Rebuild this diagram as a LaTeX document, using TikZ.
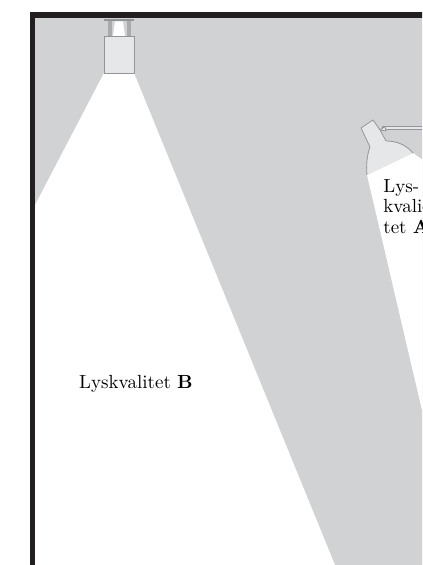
\documentclass[tikz,border=0pt]{standalone}
\begin{document}
\begin{tikzpicture}[x=0.5pt,y=-0.5pt,
  lbl/.style={inner sep=0pt,font=\fontsize{9.5}{10.3}\selectfont},
  fixture/.style={draw=lampline,line width=0.4pt,fill=lampfill}]
\definecolor{wallc}{HTML}{231F20}
\definecolor{roomc}{HTML}{D1D2D4}
\definecolor{lampfill}{HTML}{E6E7E8}
\definecolor{lampline}{HTML}{939598}
\useasboundingbox (0,0) rectangle (422,565);
\begin{scope}
\clip (0,0) rectangle (422,565);
% room interior
\fill[roomc] (35,18) rectangle (430,570);
% light cone of the ceiling lamp
\fill[white] (104,73) -- (134,73) -- (337,570) -- (35,570) -- (35,205) -- cycle;
% light cone of the wall spot
\fill[white] (367,175) -- (413,153) -- (620,300) -- (478,650) -- cycle;
% walls
\fill[wallc] (30,12) rectangle (430,18);
\fill[wallc] (30,12) rectangle (35,570);
% ceiling lamp: bracket, posts and housing
\fill[lampline] (104,19) rectangle (134,21.5);
\fill[lampline!80] (108,21.5) rectangle (112,36);
\fill[lampline!80] (127,21.5) rectangle (131,36);
\fill[white] (115,21.5) -- (123,21.5) -- (125,36) -- (113,36) -- cycle;
\path[fixture] (104,36) rectangle (134,73);
% wall spot: rod, clamp and shade
\path[fixture] (382,126.8) rectangle (430,129.6);
\path[fixture] (380,130) -- (385,126.5) -- (386,131) -- cycle;
\fill[lampfill] (361,128) -- (373,120) -- (380,130) -- (386,141)
  .. controls (397,141) and (406,145) .. (413,153) -- (367,175)
  .. controls (366,165) and (367,155) .. (370,147) -- cycle;
\draw[lampline,line width=0.4pt] (413,153)
  .. controls (406,145) and (397,141) .. (386,141) -- (380,130) -- (373,120)
  -- (361,128) -- (370,147) .. controls (367,155) and (366,165) .. (367,175);
% labels
\node[lbl] (labelB) at (136,384) {Lyskvalitet \textbf{B}};
\node[lbl,align=left,anchor=north west] (labelA) at (383,179)
  {Lys-\\kvali-\\tet \textbf{A}};
\end{scope}
\end{tikzpicture}
\end{document}
